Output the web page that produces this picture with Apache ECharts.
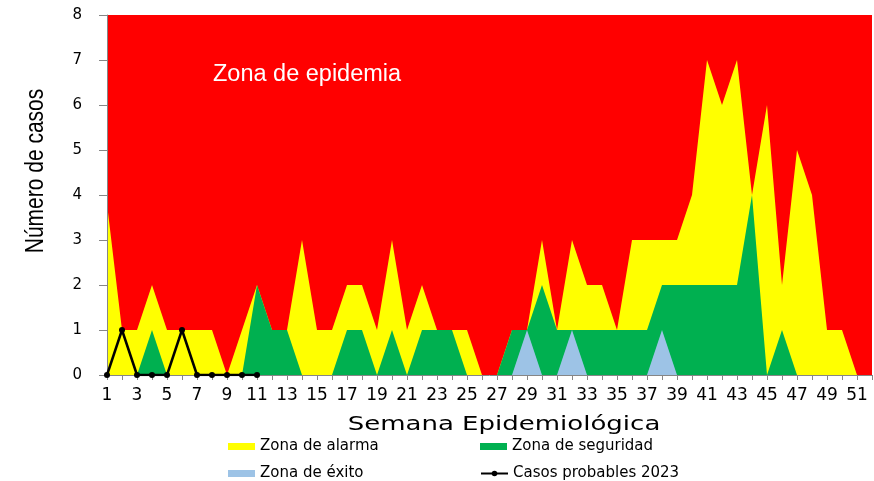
<!DOCTYPE html>
<html>
<head>
<meta charset="utf-8">
<script src="https://cdn.jsdelivr.net/npm/echarts@6/dist/echarts.min.js"></script>
<style>html,body{margin:0;padding:0;background:#fff}#c{width:874px;height:481px}</style>
</head>
<body>
<div id="c"></div>
<script>
var weeks = [];
for (var i = 1; i <= 52; i++) weeks.push(String(i));

var epidemia = [8,8,8,8,8,8,8,8,8,8,8,8,8,8,8,8,8,8,8,8,8,8,8,8,8,8,8,8,8,8,8,8,8,8,8,8,8,8,8,8,8,8,8,8,8,8,8,8,8,8,8,8];
var alarma = [3.8,1,1,2,1,1,1,1,0,1,2,1,1,3,1,1,2,2,1,3,1,2,1,1,1,0,0,1,1,3,1,3,2,2,1,3,3,3,3,4,7,6,7,4,6,2,5,4,1,1,0,0];
var seguridad = [0,0,0,1,0,0,0,0,0,0,2,1,1,0,0,0,1,1,0,1,0,1,1,1,0,0,0,1,1,2,1,1,1,1,1,1,1,2,2,2,2,2,2,4,0,1,0,0,0,0,0,0];
var exito = [0,0,0,0,0,0,0,0,0,0,0,0,0,0,0,0,0,0,0,0,0,0,0,0,0,0,0,0,1,0,0,1,0,0,0,0,0,1,0,0,0,0,0,0,0,0,0,0,0,0,0,0];
var casos2023 = [0,1,0,0,0,1,0,0,0,0,0];

var RED = '#FF0000', YELLOW = '#FFFF00', GREEN = '#00B050', BLUE = '#9DC3E6';

function area(name, data, color) {
  return {
    name: name, type: 'line', data: data, symbol: 'none', silent: true,
    itemStyle: { color: color },
    lineStyle: { width: 0, color: color },
    areaStyle: { color: color, opacity: 1 }
  };
}

var chart = echarts.init(document.getElementById('c'), null, { renderer: 'canvas' });
var legendBase = {
  orient: 'horizontal', padding: 0, itemWidth: 27, itemHeight: 7,
  selectedMode: false,
  textStyle: { fontFamily: 'DejaVu Sans', fontSize: 15, color: '#000' }
};
function lg(name, left, top, icon) {
  return Object.assign({}, legendBase, { left: left, top: top, data: [icon ? { name: name, icon: icon } : name] });
}

chart.setOption({
  animation: false,
  grid: { left: 107, right: 2, top: 15, bottom: 106, containLabel: false },
  xAxis: {
    type: 'category', data: weeks, boundaryGap: false, z: 5,
    axisLine: { show: true, lineStyle: { color: '#868686', width: 1 } },
    axisTick: { show: true, interval: 0, length: 5, lineStyle: { color: '#868686' } },
    axisLabel: { interval: 1, margin: 12, fontFamily: 'DejaVu Sans', fontSize: 17, color: '#000' },
    splitLine: { show: false }
  },
  yAxis: {
    type: 'value', min: 0, max: 8, interval: 1, z: 5,
    axisLine: { show: true, lineStyle: { color: '#868686', width: 1 } },
    axisTick: { show: true, length: 8, lineStyle: { color: '#868686' } },
    axisLabel: { margin: 25, fontFamily: 'DejaVu Sans', fontSize: 15, color: '#000' },
    splitLine: { show: false }
  },
  legend: [
    lg('Zona de alarma', 228, 439, 'rect'),
    lg('Zona de seguridad', 480, 439, 'rect'),
    lg('Zona de éxito', 228, 466, 'rect'),
    lg('Casos probables 2023', 480, 466, null)
  ],
  graphic: [
    { type: 'text', x: 213, y: 75, z: 100,
      style: { text: 'Zona de epidemia', fill: '#fff', font: '23.5px "Liberation Sans", Arial, sans-serif', textAlign: 'left', textVerticalAlign: 'middle' } },
    { type: 'text', x: 504, y: 425, scaleX: 1.3, z: 100,
      style: { text: 'Semana Epidemiológica', fill: '#000', font: '20px "DejaVu Sans", sans-serif', textAlign: 'center', textVerticalAlign: 'middle' } },
    { type: 'text', x: 36, y: 171, rotation: Math.PI / 2, scaleX: 0.84, z: 100,
      style: { text: 'Número de casos', fill: '#000', font: '25px "Liberation Sans", Arial, sans-serif', textAlign: 'center', textVerticalAlign: 'middle' } }
  ],
  series: [
    area('Zona de epidemia', epidemia, RED),
    area('Zona de alarma', alarma, YELLOW),
    area('Zona de seguridad', seguridad, GREEN),
    area('Zona de éxito', exito, BLUE),
    {
      name: 'Casos probables 2023', type: 'line', data: casos2023, z: 10,
      symbol: 'circle', symbolSize: 6, silent: true,
      itemStyle: { color: '#000' },
      lineStyle: { color: '#000', width: 2.5 }
    }
  ]
});
</script>
</body>
</html>
